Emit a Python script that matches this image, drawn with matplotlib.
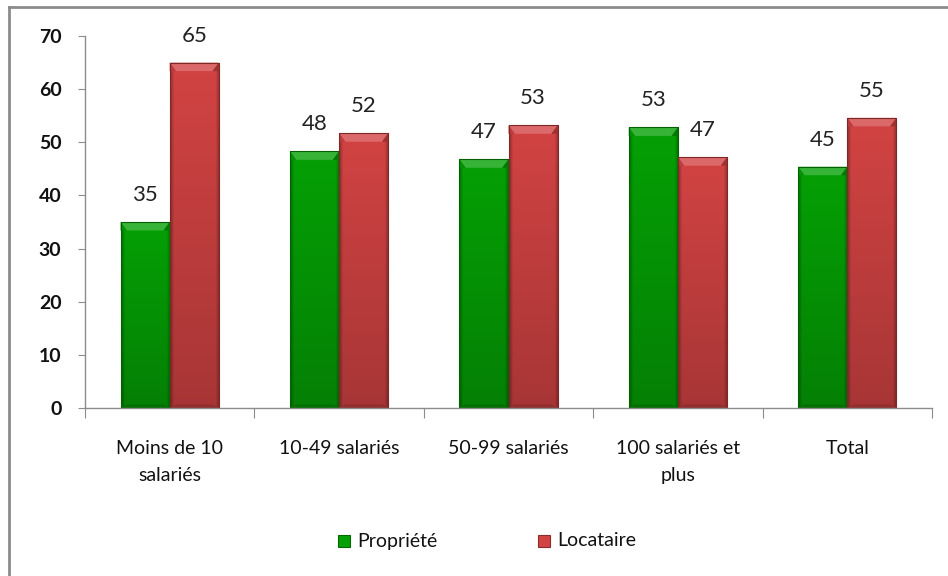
import numpy as np
import matplotlib
matplotlib.use("Agg")
import matplotlib.pyplot as plt
from matplotlib.patches import Rectangle, Polygon
from matplotlib.lines import Line2D
from matplotlib.colors import to_rgb

plt.rcParams['font.family'] = ['Lato', 'DejaVu Sans']

categories = ["Moins de 10\nsalariés", "10-49 salariés", "50-99 salariés",
              "100 salariés et\nplus", "Total"]
propriete = [35.0, 48.3, 46.8, 52.8, 45.4]
locataire = [65.0, 51.7, 53.2, 47.2, 54.6]
series_names = ["Propriété", "Locataire"]
y_ticks = [0, 10, 20, 30, 40, 50, 60, 70]

GREEN = "#05a005"
RED = "#d24343"

W, H = 948, 576
fig = plt.figure(figsize=(W / 100, H / 100), dpi=100)
ax = fig.add_axes([85 / W, 1 - 408 / H, (932 - 85) / W, (408 - 36) / H])

x = np.arange(len(categories))
bw = 0.29


def shade(color, f):
    c = np.array(to_rgb(color))
    if f >= 0:
        return tuple(c + (1 - c) * f)
    return tuple(c * (1 + f))


def bevel_bar(rect, color):
    """Paint a bevelled, gradient-filled bar over a plain bar patch."""
    x0, y0 = rect.get_x(), rect.get_y()
    w, h = rect.get_width(), rect.get_height()
    rect.set_facecolor("none")
    rect.set_edgecolor("none")
    # vertical gradient body (slightly darker toward the base)
    n = 64
    t = np.linspace(0, 1, n)[:, None]  # 0 bottom, 1 top
    base = np.array(to_rgb(color))
    dark = np.array(shade(color, -0.2))
    col = dark[None, :] * (1 - t) + base[None, :] * t
    # horizontal edge darkening
    u = np.linspace(0, 1, n)[None, :]
    edge = 1 - 0.3 * (np.clip(1 - u / 0.08, 0, 1) + np.clip((u - 0.92) / 0.08, 0, 1))
    img = col[:, None, :] * edge[:, :, None]
    im = ax.imshow(img, extent=(x0, x0 + w, y0, y0 + h), origin="lower",
                   aspect="auto", zorder=2, interpolation="bilinear")
    clip = Rectangle((x0, y0), w, h, transform=ax.transData)
    im.set_clip_path(clip)
    # top bevel
    bh = min(1.6, h * 0.3)
    bi = 0.037
    ax.add_patch(Polygon([(x0, y0 + h), (x0 + w, y0 + h),
                          (x0 + w - bi, y0 + h - bh), (x0 + bi, y0 + h - bh)],
                         closed=True, facecolor=shade(color, 0.2),
                         edgecolor="none", zorder=3))
    ax.add_patch(Polygon([(x0, y0 + h), (x0 + bi, y0 + h - bh), (x0, y0 + h - bh)],
                         closed=True, facecolor=shade(color, -0.1),
                         edgecolor="none", zorder=3))
    ax.add_patch(Polygon([(x0 + w, y0 + h), (x0 + w - bi, y0 + h - bh), (x0 + w, y0 + h - bh)],
                         closed=True, facecolor=shade(color, -0.25),
                         edgecolor="none", zorder=3))
    # bottom bevel
    ax.add_patch(Polygon([(x0, y0), (x0 + w, y0),
                          (x0 + w - bi, y0 + 0.7), (x0 + bi, y0 + 0.7)],
                         closed=True, facecolor=shade(color, -0.3),
                         edgecolor="none", zorder=3))
    ax.add_patch(Rectangle((x0, y0), w, h, facecolor="none",
                           edgecolor=shade(color, -0.4), linewidth=0.8, zorder=4))


bars_g = ax.bar(x - bw / 2, propriete, bw, color=GREEN, zorder=2)
bars_r = ax.bar(x + bw / 2, locataire, bw, color=RED, zorder=2)
for b in bars_g:
    bevel_bar(b, GREEN)
for b in bars_r:
    bevel_bar(b, RED)

for xi, v in zip(x - bw / 2, propriete):
    ax.text(xi, v + 3.2, f"{v:.0f}", ha="center", va="bottom", fontsize=16, color="#222222")
for xi, v in zip(x + bw / 2, locataire):
    ax.text(xi, v + 3.2, f"{v:.0f}", ha="center", va="bottom", fontsize=16, color="#222222")

ax.set_xlim(-0.5, len(categories) - 0.5)
ax.set_ylim(0, 70)
ax.set_yticks(y_ticks)
ax.set_yticklabels([str(t) for t in y_ticks], fontsize=14, fontweight="bold", color="#111111")
ax.set_xticks(np.arange(len(categories) + 1) - 0.5)
ax.set_xticklabels([])
ax.tick_params(axis="x", length=7, color="#8c8c8c", direction="out")
ax.tick_params(axis="y", length=5, color="#8c8c8c", direction="out", pad=12)
for xi, lab in zip(x, categories):
    ax.text(xi, -6.0, lab, ha="center", va="top", fontsize=14, color="#111111",
            linespacing=1.75)

for s in ["top", "right"]:
    ax.spines[s].set_visible(False)
for s in ["left", "bottom"]:
    ax.spines[s].set_color("#8c8c8c")
    ax.spines[s].set_linewidth(1.0)
ax.spines["bottom"].set_zorder(5)

# legend
lg_y = 1 - 541 / H
for px, name, c in [(338, series_names[0], GREEN), (538, series_names[1], RED)]:
    fig.patches.append(Rectangle((px / W, lg_y - 6 / H), 12 / W, 12 / H,
                                 transform=fig.transFigure, facecolor=c,
                                 edgecolor=shade(c, -0.35), linewidth=0.8))
    fig.text((px + 19) / W, lg_y, name, ha="left", va="center", fontsize=14,
             color="#111111")

# outer chart frame
fig.add_artist(Line2D([9 / W, 9 / W], [0, 1 - 7 / H], transform=fig.transFigure,
                      color="#8c8c8c", linewidth=2))
fig.add_artist(Line2D([9 / W, 1], [1 - 7 / H, 1 - 7 / H], transform=fig.transFigure,
                      color="#8c8c8c", linewidth=2))

fig.savefig("out.png", dpi=100)
